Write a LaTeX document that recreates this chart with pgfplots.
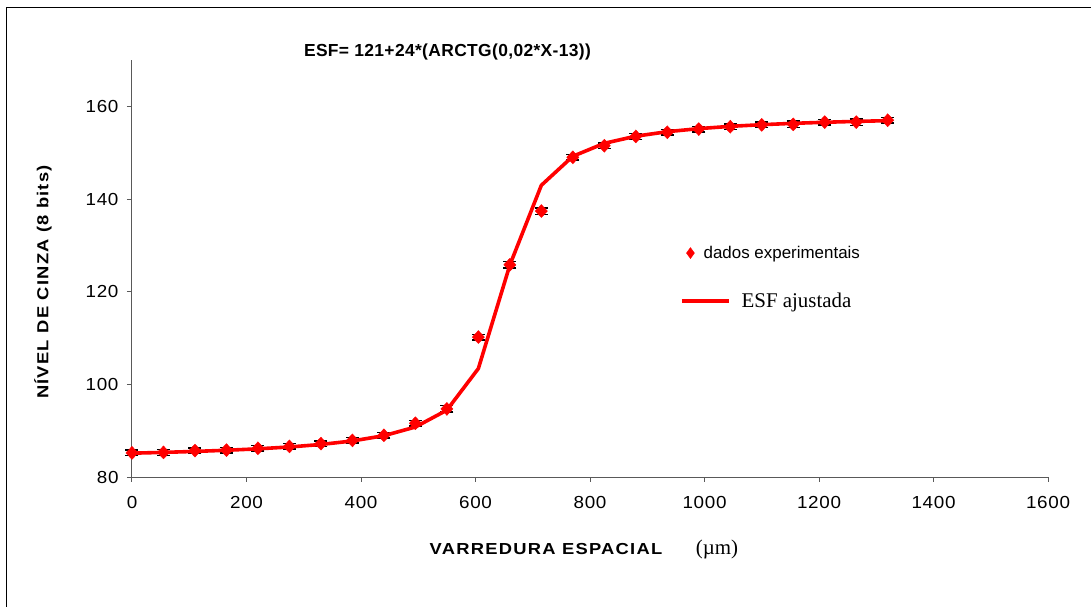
\documentclass[border=0pt]{standalone}
\usepackage{fontspec}
\setmainfont{Liberation Sans}
\newfontfamily\timesfont{Liberation Serif}
\newfontfamily\lblfont[FakeStretch=1.15, LetterSpace=8]{Liberation Sans Bold}
\newfontfamily\tickfont[FakeStretch=1.08, LetterSpace=4]{Liberation Sans}
\newfontfamily\titlefont[LetterSpace=2]{Liberation Sans Bold}
\usepackage{pgfplots}
\usepackage{pgfplotstable}
\pgfplotsset{compat=1.18}

\pgfplotstableread{
x y e
0 85.2 0.6
55 85.3 0.6
110 85.7 0.6
165 85.8 0.6
220 86.2 0.6
275 86.6 0.6
330 87.2 0.6
385 87.9 0.6
440 89.0 0.6
495 91.6 0.6
550 94.7 0.7
605 110.2 0.6
660 125.8 0.7
715 137.4 0.7
770 149.0 0.6
825 151.5 0.6
880 153.5 0.6
935 154.4 0.6
990 155.1 0.6
1045 155.6 0.6
1100 156.0 0.6
1155 156.1 0.7
1210 156.6 0.6
1265 156.6 0.7
1320 157.0 0.6
}\dados

\pgfplotstableread{
x y
0 85.14
55 85.31
110 85.52
165 85.77
220 86.08
275 86.48
330 87.02
385 87.78
440 88.91
495 90.79
550 94.43
605 103.41
660 125.74
715 142.96
770 149.22
825 152.02
880 153.56
935 154.53
990 155.19
1045 155.68
1100 156.04
1155 156.33
1210 156.56
1265 156.75
1320 156.91
}\ajuste

\begin{document}
\begin{tikzpicture}
\useasboundingbox (-132bp,-130bp) rectangle (959bp,477bp);
\draw[black, line width=1bp] (-125bp,-131bp) -- (-125bp,469bp) -- (960bp,469bp);
\begin{axis}[
  at={(0bp,0bp)}, anchor=south west,
  scale only axis, width=916bp, height=417bp,
  xmin=0, xmax=1600, ymin=80, ymax=170,
  enlargelimits=false,
  axis x line=bottom, axis y line=left,
  axis line style={-, black!65, line width=1bp},
  xtick={0,200,...,1600}, ytick={80,100,...,160},
  tick align=outside, major tick length=5bp,
  tick style={black!65, line width=1bp},
  /pgf/number format/assume math mode=true,
  /pgf/number format/1000 sep={},
  ticklabel style={font=\tickfont\fontsize{17.5}{20}\selectfont},
  xticklabel style={yshift=-11bp},
  yticklabel style={xshift=-5bp},
  clip=false,
]
\addplot[draw=none, mark=none,
  error bars/.cd, y dir=both, y explicit, error mark=|,
  error mark options={black, mark size=6.5bp, line width=1.4bp},
  error bar style={draw=none}]
  table[x=x,y=y,y error=e]{\dados};
\addplot[red, line width=3.6bp, line join=round]
  table[x=x,y=y]{\ajuste};
\addplot[only marks, mark=diamond*, mark size=6.5bp, red,
  mark options={fill=red, xscale=1.25}]
  table[x=x,y=y]{\dados};
\end{axis}
\node[anchor=base, font=\titlefont\fontsize{17.5}{20}\selectfont] at (315.5bp,420bp) {ESF= 121+24*(ARCTG(0,02*X-13))};
\node[anchor=base, font=\lblfont\fontsize{16}{18}\selectfont] at (414bp,-77bp) {VARREDURA ESPACIAL};
\node[anchor=base, font=\timesfont\fontsize{21}{24}\selectfont] at (585bp,-77bp) {(µm)};
\node[rotate=90, anchor=center, font=\lblfont\fontsize{16}{18}\selectfont] at (-89bp,195bp) {NÍVEL DE CINZA (8 bits)};
% legend
\begin{axis}[at={(0bp,0bp)}, anchor=south west, scale only axis, width=916bp, height=417bp,
  xmin=0, xmax=1600, ymin=80, ymax=170, hide axis,
  legend style={draw=none, fill=none, at={(0.6005,0.537)}, anchor=west,
    inner sep=0pt, nodes={inner sep=0pt}, row sep=0bp},
  legend cell align=left]
\addlegendimage{only marks, mark=diamond*, red, mark size=5.5bp,
  legend image code/.code={\draw[red, fill=red] (8bp,5.5bp) -- (4bp,0bp) -- (8bp,-5.5bp) -- (12bp,0bp) -- cycle; \path (0bp,0bp) (21bp,0bp);}}
\addlegendentry{\fontsize{17}{20}\selectfont dados experimentais}
\end{axis}
\begin{axis}[at={(0bp,0bp)}, anchor=south west, scale only axis, width=916bp, height=417bp,
  xmin=0, xmax=1600, ymin=80, ymax=170, hide axis,
  legend style={draw=none, fill=none, at={(0.598,0.422)}, anchor=west,
    inner sep=0pt, nodes={inner sep=0pt}, row sep=0bp},
  legend cell align=left]
\addlegendimage{red, line width=3.6bp,
  legend image code/.code={\draw[red, line width=3.6bp] (0bp,0bp) -- (47bp,0bp); \path (0bp,0bp) (58bp,0bp);}}
\addlegendentry{\timesfont\fontsize{21}{24}\selectfont ESF ajustada}
\end{axis}
\end{tikzpicture}
\end{document}
